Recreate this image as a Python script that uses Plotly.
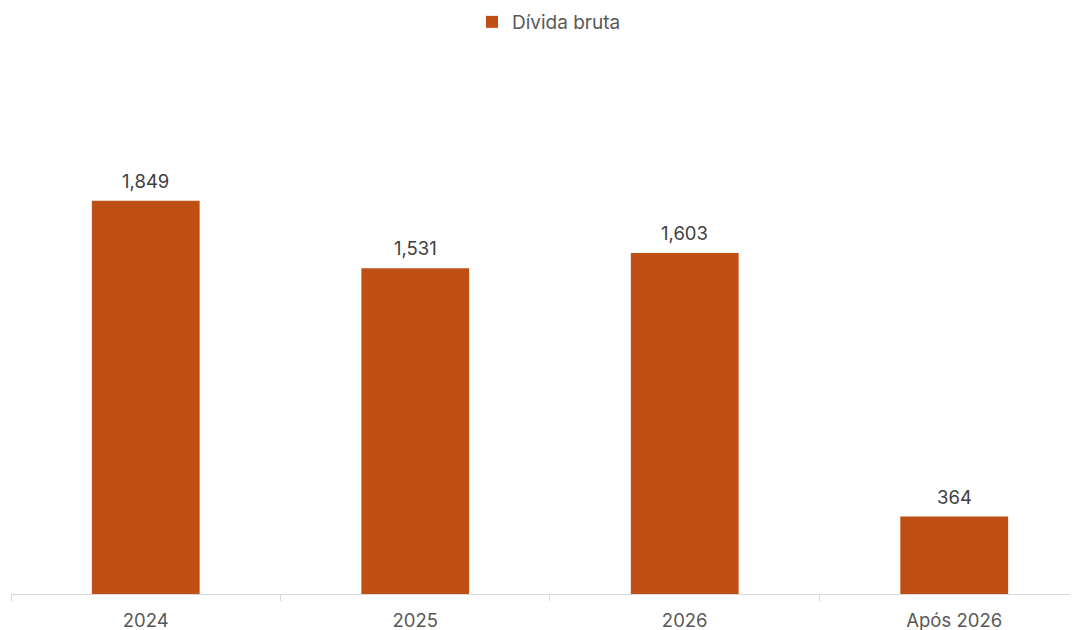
import plotly.graph_objects as go

categories = ["2024", "2025", "2026", "Após 2026"]
values = [1849, 1531, 1603, 364]
labels = ["1,849", "1,531", "1,603", "364"]
series_name = "Dívida bruta"

fig = go.Figure()
fig.add_trace(go.Bar(
    x=categories, y=values, name=series_name,
    marker=dict(color="#C04F15", line=dict(width=0)),
    width=0.4,
    showlegend=True,
))
for i, (v, t) in enumerate(zip(values, labels)):
    fig.add_annotation(x=i, y=v, text=t, showarrow=False, yanchor="middle", yshift=20,
                       font=dict(size=18.5, color="#404040"))
fig.update_layout(
    width=1078, height=630,
    margin=dict(l=3, r=0, t=32, b=44),
    paper_bgcolor="white", plot_bgcolor="white",
    font=dict(family="Inter, Open Sans, sans-serif", size=16, color="#595959"),
    showlegend=True,
    legend=dict(orientation="h", x=464/1078, xanchor="left", xref="container",
                y=1 - 14/630, yanchor="middle", yref="container",
                font=dict(size=19, color="#595959"), itemwidth=30),
    xaxis=dict(type="category", range=[-0.5, 3.489], showline=True, linecolor="#d9d9d9", linewidth=1,
               ticks="outside", tickson="boundaries", ticklen=6, tickcolor="#d9d9d9",
               ticklabelstandoff=10,
               tickfont=dict(size=18.5, color="#595959"), showgrid=False, fixedrange=True),
    yaxis=dict(range=[0, 2600], visible=False, showgrid=False, fixedrange=True),
)
fig.write_html("out.html")
